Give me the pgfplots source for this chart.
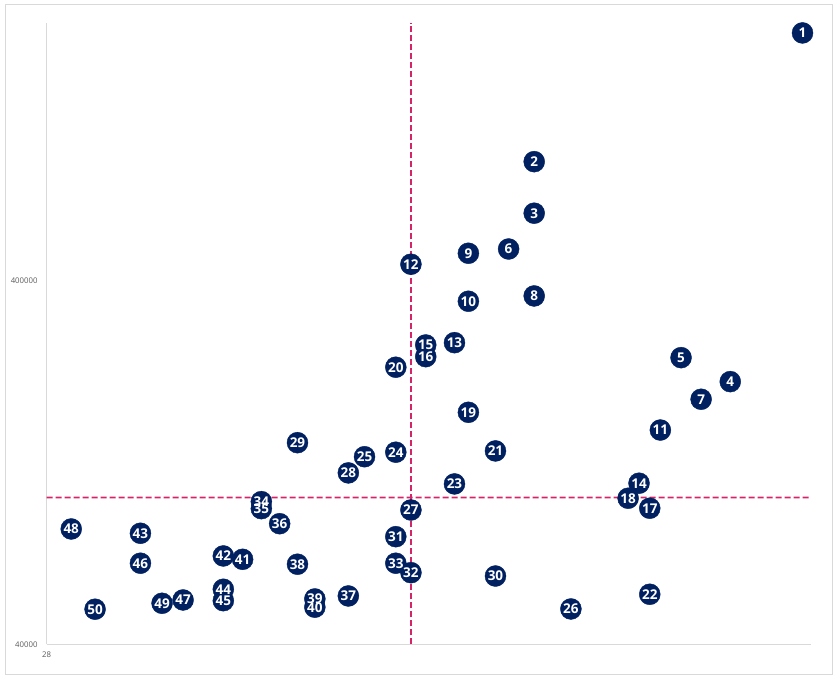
\documentclass[border=0pt]{standalone}
\usepackage{pgfplots}
\usepackage{pgfplotstable}
\pgfplotsset{compat=1.18}
\usepackage{fontspec}
\setmainfont{Open Sans}
\definecolor{navy}{HTML}{002060}
\definecolor{dashred}{RGB}{214,36,104}
\definecolor{framegray}{HTML}{D9D9D9}
\definecolor{labgray}{HTML}{595959}
\pgfplotstableread{
x y lab
82 1924900 1
56 851600 2
56 614400 3
74 211400 4
69 246100 5
54 489800 6
71 189100 7
56 363800 8
51 476700 9
51 351800 10
67 155600 11
47 444700 12
50 270600 13
65 111100 14
48 266700 15
48 247600 16
66 94810 17
64 101000 18
51 174100 19
46 231600 20
53 136300 21
66 54970 22
50 110600 23
46 135200 24
44 131400 25
59 50090 26
47 93760 27
43 118600 28
40 143600 29
53 61710 30
46 79190 31
47 63040 32
46 66930 33
38 98850 34
38 94560 35
39 85970 36
43 54390 37
40 66510 38
41 53370 39
41 50650 40
37 68610 41
36 70090 42
32 80910 43
36 56750 44
36 52790 45
32 66930 46
34 53030 47
29 83140 48
33 51930 49
30 50010 50
}\data
\begin{document}
\begin{tikzpicture}[x=1pt,y=1pt]
\path[use as bounding box] (0,0) rectangle (838,680);
\draw[framegray, line width=1pt] (5,5) rectangle (832,675);
\begin{axis}[
  at={(46.5pt,35.5pt)}, anchor=south west,
  scale only axis, width=764.5pt, height=621.5pt,
  xmode=log, ymode=log,
  xmin=28, xmax=83, ymin=40000, ymax=2.05e6,
  axis lines=left,
  axis line style={-, draw=framegray, line width=1.3pt},
  major tick length=0pt, minor tick num=0,
  xtick={28}, xticklabels={28},
  ytick={40000,400000}, yticklabels={40000,400000},
  yminorticks=false, xminorticks=false,
  yticklabel style={font=\fontsize{7.8}{8}\selectfont, text=labgray, anchor=east, inner sep=0pt, xshift=-8.8pt},
  xticklabel style={font=\fontsize{7.8}{8}\selectfont, text=labgray, anchor=north, inner sep=0pt, yshift=-7pt},
  clip=false,
]
\addplot[color=dashred, line width=1.8pt, dash pattern=on 6pt off 3pt, mark=none] coordinates {(28,101500) (40,101510) (60,101505) (83,101500)};
\addplot[color=dashred, line width=1.7pt, dash pattern=on 6pt off 3pt, mark=none] coordinates {(47,40000) (47,2.05e6)};
\addplot[only marks, mark=*, mark size=10.5pt, mark options={draw=navy, fill=navy}]
  table[x=x, y=y] {\data};
\addplot[only marks, mark=none,
  nodes near coords, point meta=explicit symbolic,
  nodes near coords align={center},
  every node near coord/.append style={text=white, inner sep=0pt, font=\fontsize{13.5}{14}\selectfont\bfseries}]
  table[x=x, y=y, meta=lab] {\data};
\end{axis}
\end{tikzpicture}
\end{document}
